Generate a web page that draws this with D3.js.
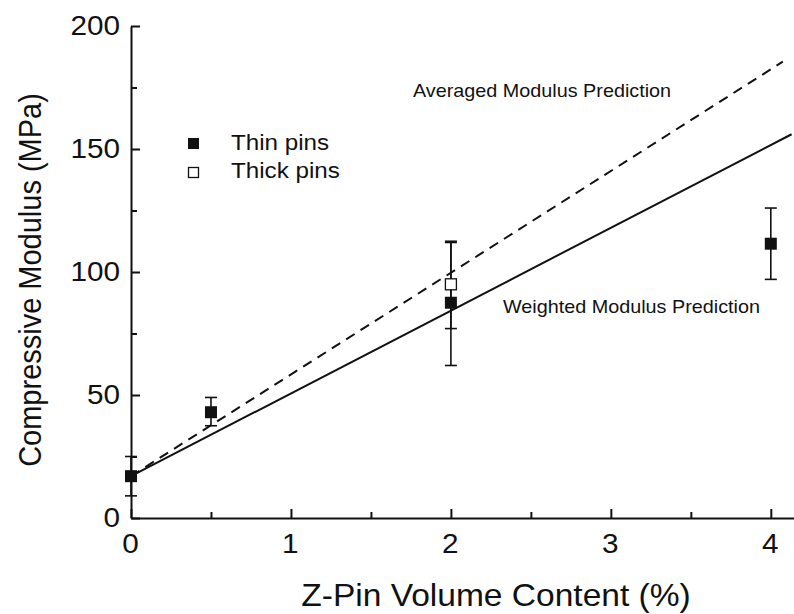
<!DOCTYPE html>
<html><head><meta charset="utf-8">
<script src="https://cdn.jsdelivr.net/npm/d3@7/dist/d3.min.js"></script>
<style>
html,body{margin:0;padding:0;background:#fff;}
text{font-family:"Liberation Sans",Arial,Helvetica,sans-serif;fill:#111;}
</style></head>
<body>
<svg id="chart" width="794" height="614"></svg>
<script>
// ---- data ----
const xTicks = [0, 1, 2, 3, 4];
const xMinorTicks = [0.5, 1.5, 2.5, 3.5];
const yTicks = [0, 50, 100, 150, 200];
const yMinorTicks = [25, 75, 125, 175];

const thinX = [0, 0.5, 2, 4];
const thinY = [17, 43, 87.5, 111.5];
const thinLo = [9, 37.5, 62, 97];
const thinHi = [25, 49, 112, 126];

const thickX = [2];
const thickY = [95];
const thickLo = [77];
const thickHi = [112.5];

const averagedX = [0, 4.075];
const averagedY = [17, 185.5];
const weightedX = [0, 4.13];
const weightedY = [17, 156];

const legendLabels = ["Thin pins", "Thick pins"];

// ---- chart ----
const svg = d3.select("#chart");
const x = d3.scaleLinear().domain([0, 4.145]).range([131, 794]);
const y = d3.scaleLinear().domain([0, 200]).range([518, 26]);
const ink = "#111";
const SX = 1.1; // horizontal stretch of the lettering

// axes
const xAxis = svg.append("g").attr("transform", `translate(0,${y(0)})`)
  .call(d3.axisBottom(x).tickValues(xTicks).tickSizeInner(-9).tickSizeOuter(0).tickPadding(16).tickFormat(d3.format("d")));
const xMinor = svg.append("g").attr("transform", `translate(0,${y(0)})`)
  .call(d3.axisBottom(x).tickValues(xMinorTicks).tickSizeInner(-6).tickSizeOuter(0).tickFormat(""));
xMinor.select(".domain").remove();

const yAxis = svg.append("g").attr("transform", `translate(${x(0)},0)`)
  .call(d3.axisLeft(y).tickValues(yTicks).tickSizeInner(-9).tickSizeOuter(0).tickPadding(10).tickFormat(d3.format("d")));
const yMinor = svg.append("g").attr("transform", `translate(${x(0)},0)`)
  .call(d3.axisLeft(y).tickValues(yMinorTicks).tickSizeInner(-6).tickSizeOuter(0).tickFormat(""));
yMinor.select(".domain").remove();

svg.selectAll(".domain, .tick line").attr("stroke", ink).attr("stroke-width", 2);
svg.selectAll(".tick text").style("font-size", "27px").attr("fill", ink)
  .style("font-family", "'Liberation Sans', Arial, sans-serif")
  .attr("transform", `scale(${SX},1)`);
xAxis.selectAll(".tick text").attr("dy", "0.71em").attr("x", -1);

// prediction lines
const line = d3.line().x(d => x(d[0])).y(d => y(d[1]));
svg.append("path").datum(averagedX.map((v, i) => [v, averagedY[i]]))
  .attr("d", line).attr("fill", "none").attr("stroke", ink).attr("stroke-width", 2)
  .attr("stroke-dasharray", "10,7");
svg.append("path").datum(weightedX.map((v, i) => [v, weightedY[i]]))
  .attr("d", line).attr("fill", "none").attr("stroke", ink).attr("stroke-width", 2);

// error bars
function errorBars(xs, lo, hi) {
  const g = svg.append("g").attr("stroke", ink).attr("stroke-width", 1.6);
  xs.forEach((xv, i) => {
    g.append("line").attr("x1", x(xv)).attr("x2", x(xv)).attr("y1", y(lo[i])).attr("y2", y(hi[i]));
    [lo[i], hi[i]].forEach(v => {
      g.append("line").attr("x1", x(xv) - 6).attr("x2", x(xv) + 6).attr("y1", y(v)).attr("y2", y(v));
    });
  });
}
errorBars(thinX, thinLo, thinHi);
errorBars(thickX, thickLo, thickHi);

// markers
const ms = 12;
svg.append("g").selectAll("rect").data(thickX.map((v, i) => [v, thickY[i]])).join("rect")
  .attr("x", d => x(d[0]) - ms / 2 + 0.5).attr("y", d => y(d[1]) - ms / 2 + 0.5)
  .attr("width", ms - 1).attr("height", ms - 1)
  .attr("fill", "#fff").attr("stroke", ink).attr("stroke-width", 1.3);
svg.append("g").selectAll("rect").data(thinX.map((v, i) => [v, thinY[i]])).join("rect")
  .attr("x", d => x(d[0]) - ms / 2).attr("y", d => y(d[1]) - ms / 2)
  .attr("width", ms).attr("height", ms).attr("fill", ink);

// stretched text helper
function label(tx, ty, size, str, anchor) {
  return svg.append("text")
    .attr("transform", `translate(${tx},${ty}) scale(${SX},1)`)
    .attr("text-anchor", anchor || "start")
    .style("font-size", size + "px").text(str);
}

// legend
const lg = svg.append("g");
lg.append("rect").attr("x", 188).attr("y", 138).attr("width", 11).attr("height", 11).attr("fill", ink);
lg.append("rect").attr("x", 188.5).attr("y", 167.5).attr("width", 10).attr("height", 10)
  .attr("fill", "#fff").attr("stroke", ink).attr("stroke-width", 1.3);
label(231, 150, 22, legendLabels[0]);
label(231, 178, 22, legendLabels[1]);

// annotations
label(413, 97, 18, "Averaged Modulus Prediction");
label(503, 313, 18, "Weighted Modulus Prediction");

// axis titles
label(496, 606, 30.5, "Z-Pin Volume Content (%)", "middle");
svg.append("text").attr("transform", "translate(41,280) rotate(-90) scale(1,1.1)").attr("text-anchor", "middle")
  .style("font-size", "29px").text("Compressive Modulus (MPa)");
</script>
</body></html>
